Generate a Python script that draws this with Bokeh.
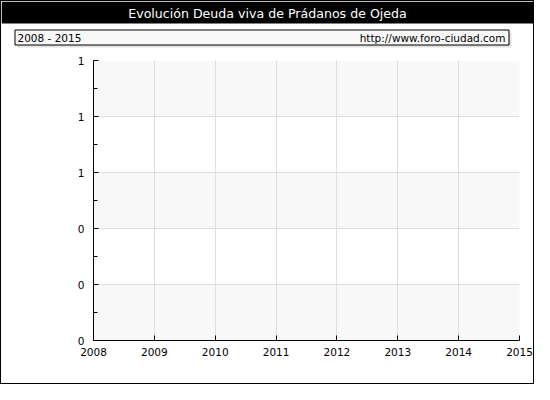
from bokeh.plotting import figure
from bokeh.layouts import column
from bokeh.models import BoxAnnotation, FixedTicker, Range1d
from bokeh.core.properties import value
from bokeh.embed import file_html
from bokeh.resources import INLINE

# ---- data ----
title_text = "Evolución Deuda viva de Prádanos de Ojeda"
period_text = "2008 - 2015"
source_text = "http://www.foro-ciudad.com"
years = [2008, 2009, 2010, 2011, 2012, 2013, 2014, 2015]
y_ticks = [0.0, 0.2, 0.4, 0.6, 0.8, 1.0]
y_minor = [0.1, 0.3, 0.5, 0.7, 0.9]
y_labels = ["0", "0", "0", "1", "1", "1"]

FONT = "DejaVu Sans"
W = 532
HT = 50
HM = 332

# ---- header figure (pixel coordinates, y downwards) ----
h = figure(width=W, height=HT, output_backend="svg", toolbar_location=None,
           x_range=Range1d(0, W), y_range=Range1d(HT, 0),
           x_axis_type=None, y_axis_type=None, min_border=0)
h.outline_line_color = None
h.grid.visible = False
h.background_fill_color = "white"
h.border_fill_color = "white"
# title bar
h.quad(left=[0], right=[W], top=[0], bottom=[22], fill_color="black", line_color=None)
h.text(x=[W / 2], y=[12], text=[title_text], text_align="center", text_baseline="middle",
       text_color="white", text_font=value(FONT), text_font_size="12.6px")
# info box shadow + box
h.quad(left=[16], right=[510], top=[31], bottom=[46], fill_color="#e2e2e2", line_color=None)
h.quad(left=[13.5], right=[507.5], top=[28.5], bottom=[43.5], fill_color="#f8f8f8",
       line_color="black", line_width=1)
h.text(x=[16], y=[36], text=[period_text], text_align="left", text_baseline="middle",
       text_color="black", text_font=value(FONT), text_font_size="10.5px")
h.text(x=[504], y=[36], text=[source_text], text_align="right", text_baseline="middle",
       text_color="black", text_font=value(FONT), text_font_size="10.5px")

# ---- main chart ----
p = figure(width=W, height=HM, output_backend="svg", toolbar_location=None,
           x_range=Range1d(years[0], years[-1]), y_range=Range1d(y_ticks[0], y_ticks[-1]),
           min_border_left=92, min_border_right=14, min_border_top=9, min_border_bottom=43)
p.outline_line_color = None
p.background_fill_color = "white"
p.border_fill_color = "white"

for fig in (h, p):
    if hasattr(fig, "frame_align"):
        fig.frame_align = False

# alternating bands
for i in range(0, len(y_ticks) - 1, 2):
    p.add_layout(BoxAnnotation(bottom=y_ticks[i], top=y_ticks[i + 1],
                               fill_color="#f8f8f8", fill_alpha=1.0,
                               line_color=None, level="image"))

# x axis
xa = p.xaxis[0]
xa.ticker = FixedTicker(ticks=years)
xa.axis_line_color = "black"
xa.major_tick_in = 5
xa.major_tick_out = 0
xa.minor_tick_line_color = None
xa.major_label_text_font = FONT
xa.major_label_text_font_size = "10.5px"
xa.major_label_text_color = "black"
xa.major_label_standoff = 7

# y axis
ya = p.yaxis[0]
ya.ticker = FixedTicker(ticks=y_ticks, minor_ticks=y_minor)
ya.major_label_overrides = {t: l for t, l in zip(y_ticks, y_labels)}
ya.axis_line_color = "black"
ya.major_tick_in = 5
ya.major_tick_out = 0
ya.minor_tick_in = 4
ya.minor_tick_out = 0
ya.major_label_text_font = FONT
ya.major_label_text_font_size = "10.5px"
ya.major_label_text_color = "black"
ya.major_label_standoff = 9

# grids
p.xgrid[0].ticker = FixedTicker(ticks=years)
p.xgrid[0].grid_line_color = "#dddddd"
p.ygrid[0].ticker = FixedTicker(ticks=y_ticks)
p.ygrid[0].grid_line_color = "#dddddd"

layout = column(h, column(p), spacing=0, styles={"border": "1px solid black"})

open("out.html", "w").write(file_html(layout, INLINE))
